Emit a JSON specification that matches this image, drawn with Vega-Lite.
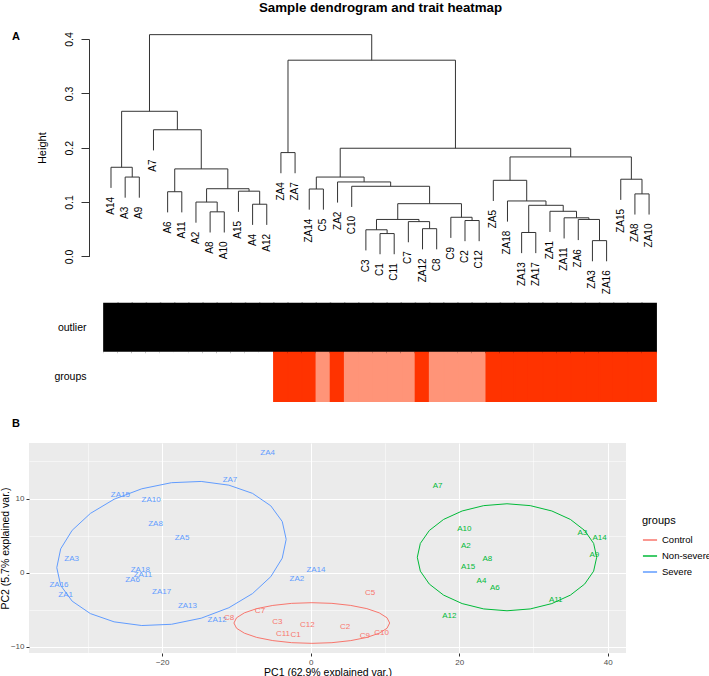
{
  "$schema": "https://vega.github.io/schema/vega-lite/v6.json",
  "background": "white",
  "padding": {"left": 0, "top": 1, "right": 0, "bottom": 0},
  "autosize": {"type": "pad"},
  "config": {"font": "Liberation Sans", "view": {"stroke": null}},
  "title": {"text": "Sample dendrogram and trait heatmap", "fontSize": 13.3, "fontWeight": "bold", "anchor": "start", "frame": "group", "color": "black", "dx": 230, "offset": 16},
  "bounds": "flush",
  "spacing": 41,
  "resolve": {"scale": {"color": "independent", "fill": "independent", "stroke": "independent"}},
  "datasets": {
    "nodes": [
      {"x":0,"h":0.126,"p":0.164,"name":"A14"},
      {"x":1,"h":0.108,"p":0.146,"name":"A3"},
      {"x":2,"h":0.108,"p":0.146,"name":"A9"},
      {"x":3,"h":0.195,"p":0.233,"name":"A7"},
      {"x":4,"h":0.081,"p":0.119,"name":"A6"},
      {"x":5,"h":0.081,"p":0.119,"name":"A11"},
      {"x":6,"h":0.062,"p":0.1,"name":"A2"},
      {"x":7,"h":0.044,"p":0.082,"name":"A8"},
      {"x":8,"h":0.044,"p":0.082,"name":"A10"},
      {"x":9,"h":0.082,"p":0.12,"name":"A15"},
      {"x":10,"h":0.058,"p":0.096,"name":"A4"},
      {"x":11,"h":0.058,"p":0.096,"name":"A12"},
      {"x":12,"h":0.153,"p":0.191,"name":"ZA4"},
      {"x":13,"h":0.153,"p":0.191,"name":"ZA7"},
      {"x":14,"h":0.086,"p":0.124,"name":"ZA14"},
      {"x":15,"h":0.086,"p":0.124,"name":"C5"},
      {"x":16,"h":0.099,"p":0.137,"name":"ZA2"},
      {"x":17,"h":0.091,"p":0.129,"name":"C10"},
      {"x":18,"h":0.011,"p":0.049,"name":"C3"},
      {"x":19,"h":0.004,"p":0.042,"name":"C1"},
      {"x":20,"h":0.004,"p":0.042,"name":"C11"},
      {"x":21,"h":0.026,"p":0.064,"name":"C7"},
      {"x":22,"h":0.013,"p":0.051,"name":"ZA12"},
      {"x":23,"h":0.013,"p":0.051,"name":"C8"},
      {"x":24,"h":0.034,"p":0.072,"name":"C9"},
      {"x":25,"h":0.028,"p":0.066,"name":"C2"},
      {"x":26,"h":0.028,"p":0.066,"name":"C12"},
      {"x":27,"h":0.102,"p":0.14,"name":"ZA5"},
      {"x":28,"h":0.064,"p":0.102,"name":"ZA18"},
      {"x":29,"h":0.006,"p":0.044,"name":"ZA13"},
      {"x":30,"h":0.006,"p":0.044,"name":"ZA17"},
      {"x":31,"h":0.045,"p":0.083,"name":"ZA1"},
      {"x":32,"h":0.033,"p":0.071,"name":"ZA11"},
      {"x":33,"h":0.03,"p":0.068,"name":"ZA6"},
      {"x":34,"h":-0.009,"p":0.029,"name":"ZA3"},
      {"x":35,"h":-0.009,"p":0.029,"name":"ZA16"},
      {"x":36,"h":0.104,"p":0.142,"name":"ZA15"},
      {"x":37,"h":0.077,"p":0.115,"name":"ZA8"},
      {"x":38,"h":0.077,"p":0.115,"name":"ZA10"},
      {"x":1.5,"h":0.146,"p":0.164},
      {"x":0.75,"h":0.164,"p":0.267},
      {"x":7.5,"h":0.082,"p":0.1},
      {"x":6.75,"h":0.1,"p":0.1245},
      {"x":10.5,"h":0.096,"p":0.12},
      {"x":9.75,"h":0.12,"p":0.1245},
      {"x":8.25,"h":0.1245,"p":0.161},
      {"x":4.5,"h":0.119,"p":0.161},
      {"x":6.375,"h":0.161,"p":0.233},
      {"x":4.6875,"h":0.233,"p":0.267},
      {"x":2.71875,"h":0.267,"p":0.408},
      {"x":12.5,"h":0.191,"p":0.361},
      {"x":14.5,"h":0.124,"p":0.146},
      {"x":19.5,"h":0.042,"p":0.049},
      {"x":18.75,"h":0.049,"p":0.068},
      {"x":22.5,"h":0.051,"p":0.064},
      {"x":21.75,"h":0.064,"p":0.068},
      {"x":20.25,"h":0.068,"p":0.097},
      {"x":25.5,"h":0.066,"p":0.072},
      {"x":24.75,"h":0.072,"p":0.097},
      {"x":22.5,"h":0.097,"p":0.129},
      {"x":19.75,"h":0.129,"p":0.137},
      {"x":17.875,"h":0.137,"p":0.146},
      {"x":16.1875,"h":0.146,"p":0.199},
      {"x":34.5,"h":0.029,"p":0.068},
      {"x":33.75,"h":0.068,"p":0.071},
      {"x":32.875,"h":0.071,"p":0.083},
      {"x":31.9375,"h":0.083,"p":0.094},
      {"x":29.5,"h":0.044,"p":0.094},
      {"x":30.71875,"h":0.094,"p":0.102},
      {"x":29.359,"h":0.102,"p":0.14},
      {"x":28.18,"h":0.14,"p":0.183},
      {"x":37.5,"h":0.115,"p":0.142},
      {"x":36.75,"h":0.142,"p":0.183},
      {"x":32.465,"h":0.183,"p":0.199},
      {"x":24.326,"h":0.199,"p":0.361},
      {"x":18.413,"h":0.361,"p":0.408}
    ],
    "merges": [
      {"x":1,"x2":2,"h":0.146},
      {"x":0,"x2":1.5,"h":0.164},
      {"x":7,"x2":8,"h":0.082},
      {"x":6,"x2":7.5,"h":0.1},
      {"x":10,"x2":11,"h":0.096},
      {"x":9,"x2":10.5,"h":0.12},
      {"x":6.75,"x2":9.75,"h":0.1245},
      {"x":4,"x2":5,"h":0.119},
      {"x":4.5,"x2":8.25,"h":0.161},
      {"x":3,"x2":6.375,"h":0.233},
      {"x":0.75,"x2":4.6875,"h":0.267},
      {"x":12,"x2":13,"h":0.191},
      {"x":14,"x2":15,"h":0.124},
      {"x":19,"x2":20,"h":0.042},
      {"x":18,"x2":19.5,"h":0.049},
      {"x":22,"x2":23,"h":0.051},
      {"x":21,"x2":22.5,"h":0.064},
      {"x":18.75,"x2":21.75,"h":0.068},
      {"x":25,"x2":26,"h":0.066},
      {"x":24,"x2":25.5,"h":0.072},
      {"x":20.25,"x2":24.75,"h":0.097},
      {"x":17,"x2":22.5,"h":0.129},
      {"x":16,"x2":19.75,"h":0.137},
      {"x":14.5,"x2":17.875,"h":0.146},
      {"x":34,"x2":35,"h":0.029},
      {"x":33,"x2":34.5,"h":0.068},
      {"x":32,"x2":33.75,"h":0.071},
      {"x":31,"x2":32.875,"h":0.083},
      {"x":29,"x2":30,"h":0.044},
      {"x":29.5,"x2":31.9375,"h":0.094},
      {"x":28,"x2":30.71875,"h":0.102},
      {"x":27,"x2":29.359,"h":0.14},
      {"x":37,"x2":38,"h":0.115},
      {"x":36,"x2":37.5,"h":0.142},
      {"x":28.18,"x2":36.75,"h":0.183},
      {"x":16.1875,"x2":32.465,"h":0.199},
      {"x":12.5,"x2":24.326,"h":0.361},
      {"x":2.71875,"x2":18.413,"h":0.408}
    ],
    "samples": [
      {"sample":"A14","outlier":"no","groups":"Non-severe"},
      {"sample":"A3","outlier":"no","groups":"Non-severe"},
      {"sample":"A9","outlier":"no","groups":"Non-severe"},
      {"sample":"A7","outlier":"no","groups":"Non-severe"},
      {"sample":"A6","outlier":"no","groups":"Non-severe"},
      {"sample":"A11","outlier":"no","groups":"Non-severe"},
      {"sample":"A2","outlier":"no","groups":"Non-severe"},
      {"sample":"A8","outlier":"no","groups":"Non-severe"},
      {"sample":"A10","outlier":"no","groups":"Non-severe"},
      {"sample":"A15","outlier":"no","groups":"Non-severe"},
      {"sample":"A4","outlier":"no","groups":"Non-severe"},
      {"sample":"A12","outlier":"no","groups":"Non-severe"},
      {"sample":"ZA4","outlier":"no","groups":"Severe"},
      {"sample":"ZA7","outlier":"no","groups":"Severe"},
      {"sample":"ZA14","outlier":"no","groups":"Severe"},
      {"sample":"C5","outlier":"no","groups":"Control"},
      {"sample":"ZA2","outlier":"no","groups":"Severe"},
      {"sample":"C10","outlier":"no","groups":"Control"},
      {"sample":"C3","outlier":"no","groups":"Control"},
      {"sample":"C1","outlier":"no","groups":"Control"},
      {"sample":"C11","outlier":"no","groups":"Control"},
      {"sample":"C7","outlier":"no","groups":"Control"},
      {"sample":"ZA12","outlier":"no","groups":"Severe"},
      {"sample":"C8","outlier":"no","groups":"Control"},
      {"sample":"C9","outlier":"no","groups":"Control"},
      {"sample":"C2","outlier":"no","groups":"Control"},
      {"sample":"C12","outlier":"no","groups":"Control"},
      {"sample":"ZA5","outlier":"no","groups":"Severe"},
      {"sample":"ZA18","outlier":"no","groups":"Severe"},
      {"sample":"ZA13","outlier":"no","groups":"Severe"},
      {"sample":"ZA17","outlier":"no","groups":"Severe"},
      {"sample":"ZA1","outlier":"no","groups":"Severe"},
      {"sample":"ZA11","outlier":"no","groups":"Severe"},
      {"sample":"ZA6","outlier":"no","groups":"Severe"},
      {"sample":"ZA3","outlier":"no","groups":"Severe"},
      {"sample":"ZA16","outlier":"no","groups":"Severe"},
      {"sample":"ZA15","outlier":"no","groups":"Severe"},
      {"sample":"ZA8","outlier":"no","groups":"Severe"},
      {"sample":"ZA10","outlier":"no","groups":"Severe"}
    ],
    "pca": [
      {"name":"ZA4","group":"Severe","pc1":-5.79,"pc2":16.1},
      {"name":"ZA7","group":"Severe","pc1":-10.87,"pc2":12.45},
      {"name":"ZA15","group":"Severe","pc1":-25.64,"pc2":10.43},
      {"name":"ZA10","group":"Severe","pc1":-21.5,"pc2":9.8},
      {"name":"ZA8","group":"Severe","pc1":-20.9,"pc2":6.56},
      {"name":"ZA5","group":"Severe","pc1":-17.33,"pc2":4.68},
      {"name":"ZA3","group":"Severe","pc1":-32.2,"pc2":1.8},
      {"name":"ZA18","group":"Severe","pc1":-22.95,"pc2":0.32},
      {"name":"ZA11","group":"Severe","pc1":-22.6,"pc2":-0.27},
      {"name":"ZA6","group":"Severe","pc1":-24.0,"pc2":-0.98},
      {"name":"ZA16","group":"Severe","pc1":-33.9,"pc2":-1.6},
      {"name":"ZA1","group":"Severe","pc1":-33.0,"pc2":-2.96},
      {"name":"ZA17","group":"Severe","pc1":-20.07,"pc2":-2.6},
      {"name":"ZA13","group":"Severe","pc1":-16.6,"pc2":-4.45},
      {"name":"ZA12","group":"Severe","pc1":-12.6,"pc2":-6.4},
      {"name":"ZA14","group":"Severe","pc1":0.71,"pc2":0.36},
      {"name":"ZA2","group":"Severe","pc1":-1.85,"pc2":-0.9},
      {"name":"C8","group":"Control","pc1":-11.0,"pc2":-6.15},
      {"name":"C7","group":"Control","pc1":-6.83,"pc2":-5.2},
      {"name":"C3","group":"Control","pc1":-4.5,"pc2":-6.64},
      {"name":"C12","group":"Control","pc1":-0.45,"pc2":-7.05},
      {"name":"C11","group":"Control","pc1":-3.73,"pc2":-8.26},
      {"name":"C1","group":"Control","pc1":-2.02,"pc2":-8.35},
      {"name":"C2","group":"Control","pc1":4.62,"pc2":-7.32},
      {"name":"C5","group":"Control","pc1":7.99,"pc2":-2.78},
      {"name":"C9","group":"Control","pc1":7.31,"pc2":-8.49},
      {"name":"C10","group":"Control","pc1":9.56,"pc2":-8.17},
      {"name":"A7","group":"Non-severe","pc1":17.1,"pc2":11.64},
      {"name":"A10","group":"Non-severe","pc1":20.7,"pc2":5.89},
      {"name":"A2","group":"Non-severe","pc1":20.9,"pc2":3.55},
      {"name":"A8","group":"Non-severe","pc1":23.8,"pc2":1.8},
      {"name":"A15","group":"Non-severe","pc1":21.2,"pc2":0.77},
      {"name":"A4","group":"Non-severe","pc1":23.0,"pc2":-1.16},
      {"name":"A6","group":"Non-severe","pc1":24.8,"pc2":-2.02},
      {"name":"A3","group":"Non-severe","pc1":36.6,"pc2":5.3},
      {"name":"A14","group":"Non-severe","pc1":38.9,"pc2":4.68},
      {"name":"A9","group":"Non-severe","pc1":38.2,"pc2":2.39},
      {"name":"A11","group":"Non-severe","pc1":33.0,"pc2":-3.68},
      {"name":"A12","group":"Non-severe","pc1":18.67,"pc2":-5.88}
    ],
    "ellipse": [
      {"group":"Non-severe","t":0,"pc1":38.52,"pc2":2.08},
      {"group":"Non-severe","t":1,"pc1":38.11,"pc2":3.95},
      {"group":"Non-severe","t":2,"pc1":36.9,"pc2":5.69},
      {"group":"Non-severe","t":3,"pc1":34.98,"pc2":7.18},
      {"group":"Non-severe","t":4,"pc1":32.48,"pc2":8.32},
      {"group":"Non-severe","t":5,"pc1":29.57,"pc2":9.04},
      {"group":"Non-severe","t":6,"pc1":26.44,"pc2":9.29},
      {"group":"Non-severe","t":7,"pc1":23.31,"pc2":9.04},
      {"group":"Non-severe","t":8,"pc1":20.4,"pc2":8.32},
      {"group":"Non-severe","t":9,"pc1":17.9,"pc2":7.18},
      {"group":"Non-severe","t":10,"pc1":15.98,"pc2":5.69},
      {"group":"Non-severe","t":11,"pc1":14.77,"pc2":3.95},
      {"group":"Non-severe","t":12,"pc1":14.36,"pc2":2.08},
      {"group":"Non-severe","t":13,"pc1":14.77,"pc2":0.21},
      {"group":"Non-severe","t":14,"pc1":15.98,"pc2":-1.53},
      {"group":"Non-severe","t":15,"pc1":17.9,"pc2":-3.02},
      {"group":"Non-severe","t":16,"pc1":20.4,"pc2":-4.16},
      {"group":"Non-severe","t":17,"pc1":23.31,"pc2":-4.88},
      {"group":"Non-severe","t":18,"pc1":26.44,"pc2":-5.13},
      {"group":"Non-severe","t":19,"pc1":29.57,"pc2":-4.88},
      {"group":"Non-severe","t":20,"pc1":32.48,"pc2":-4.16},
      {"group":"Non-severe","t":21,"pc1":34.98,"pc2":-3.02},
      {"group":"Non-severe","t":22,"pc1":36.9,"pc2":-1.53},
      {"group":"Non-severe","t":23,"pc1":38.11,"pc2":0.21},
      {"group":"Non-severe","t":24,"pc1":38.52,"pc2":2.08},
      {"group":"Control","t":0,"pc1":10.64,"pc2":-6.78},
      {"group":"Control","t":1,"pc1":10.28,"pc2":-6.07},
      {"group":"Control","t":2,"pc1":9.23,"pc2":-5.41},
      {"group":"Control","t":3,"pc1":7.57,"pc2":-4.84},
      {"group":"Control","t":4,"pc1":5.4,"pc2":-4.41},
      {"group":"Control","t":5,"pc1":2.86,"pc2":-4.13},
      {"group":"Control","t":6,"pc1":0.15,"pc2":-4.04},
      {"group":"Control","t":7,"pc1":-2.56,"pc2":-4.13},
      {"group":"Control","t":8,"pc1":-5.1,"pc2":-4.41},
      {"group":"Control","t":9,"pc1":-7.27,"pc2":-4.84},
      {"group":"Control","t":10,"pc1":-8.93,"pc2":-5.41},
      {"group":"Control","t":11,"pc1":-9.98,"pc2":-6.07},
      {"group":"Control","t":12,"pc1":-10.34,"pc2":-6.78},
      {"group":"Control","t":13,"pc1":-9.98,"pc2":-7.49},
      {"group":"Control","t":14,"pc1":-8.93,"pc2":-8.15},
      {"group":"Control","t":15,"pc1":-7.27,"pc2":-8.72},
      {"group":"Control","t":16,"pc1":-5.1,"pc2":-9.15},
      {"group":"Control","t":17,"pc1":-2.56,"pc2":-9.43},
      {"group":"Control","t":18,"pc1":0.15,"pc2":-9.52},
      {"group":"Control","t":19,"pc1":2.86,"pc2":-9.43},
      {"group":"Control","t":20,"pc1":5.4,"pc2":-9.15},
      {"group":"Control","t":21,"pc1":7.57,"pc2":-8.72},
      {"group":"Control","t":22,"pc1":9.23,"pc2":-8.15},
      {"group":"Control","t":23,"pc1":10.28,"pc2":-7.49},
      {"group":"Control","t":24,"pc1":10.64,"pc2":-6.78},
      {"group":"Severe","t":0,"pc1":-3.3,"pc2":4.5},
      {"group":"Severe","t":1,"pc1":-3.83,"pc2":6.9},
      {"group":"Severe","t":2,"pc1":-5.37,"pc2":9.01},
      {"group":"Severe","t":3,"pc1":-7.83,"pc2":10.69},
      {"group":"Severe","t":4,"pc1":-11.02,"pc2":11.8},
      {"group":"Severe","t":5,"pc1":-14.75,"pc2":12.3},
      {"group":"Severe","t":6,"pc1":-18.75,"pc2":12.13},
      {"group":"Severe","t":7,"pc1":-22.75,"pc2":11.31},
      {"group":"Severe","t":8,"pc1":-26.48,"pc2":9.9},
      {"group":"Severe","t":9,"pc1":-29.67,"pc2":7.99},
      {"group":"Severe","t":10,"pc1":-32.13,"pc2":5.71},
      {"group":"Severe","t":11,"pc1":-33.67,"pc2":3.22},
      {"group":"Severe","t":12,"pc1":-34.2,"pc2":0.68},
      {"group":"Severe","t":13,"pc1":-33.67,"pc2":-1.72},
      {"group":"Severe","t":14,"pc1":-32.13,"pc2":-3.83},
      {"group":"Severe","t":15,"pc1":-29.67,"pc2":-5.51},
      {"group":"Severe","t":16,"pc1":-26.48,"pc2":-6.62},
      {"group":"Severe","t":17,"pc1":-22.75,"pc2":-7.12},
      {"group":"Severe","t":18,"pc1":-18.75,"pc2":-6.95},
      {"group":"Severe","t":19,"pc1":-14.75,"pc2":-6.13},
      {"group":"Severe","t":20,"pc1":-11.02,"pc2":-4.72},
      {"group":"Severe","t":21,"pc1":-7.83,"pc2":-2.81},
      {"group":"Severe","t":22,"pc1":-5.37,"pc2":-0.53},
      {"group":"Severe","t":23,"pc1":-3.83,"pc2":1.96},
      {"group":"Severe","t":24,"pc1":-3.3,"pc2":4.5}
    ]
  },
  "vconcat": [
    {
      "width": 630,
      "height": 217.4,
      "title": {"text": "A", "anchor": "start", "frame": "group", "fontSize": 11, "fontWeight": "bold", "color": "black", "dx": -17, "offset": -10},
      "layer": [
        {
          "data": {"name": "merges"},
          "mark": {"type": "rule", "color": "#333333", "strokeWidth": 1},
          "encoding": {
            "x": {"field": "x", "type": "quantitative", "scale": {"domain": [-5.791, 38.701], "nice": false, "zero": false}, "axis": null},
            "x2": {"field": "x2"},
            "y": {"field": "h", "type": "quantitative", "scale": {"domain": [0, 0.4], "nice": false, "zero": false},
              "axis": {"values": [0, 0.1, 0.2, 0.3, 0.4], "format": ".1f", "offset": -60, "tickSize": 8, "tickColor": "#333333", "domainColor": "#333333", "labelAngle": 270, "labelAlign": "center", "labelBaseline": "bottom", "labelPadding": 7, "labelFontSize": 10.5, "labelColor": "black", "title": "Height", "titleFontSize": 11, "titleFontWeight": "normal", "titleColor": "black", "titlePadding": 17, "grid": false}}
          }
        },
        {
          "data": {"name": "nodes"},
          "mark": {"type": "rule", "color": "#333333", "strokeWidth": 1},
          "encoding": {
            "x": {"field": "x", "type": "quantitative"},
            "y": {"field": "h", "type": "quantitative"},
            "y2": {"field": "p"}
          }
        },
        {
          "data": {"name": "nodes"},
          "transform": [{"filter": "isValid(datum.name)"}],
          "mark": {"type": "text", "angle": 270, "align": "right", "baseline": "middle", "dx": -9, "fontSize": 10, "color": "black"},
          "encoding": {
            "x": {"field": "x", "type": "quantitative"},
            "y": {"field": "h", "type": "quantitative"},
            "text": {"field": "name"}
          }
        }
      ]
    },
    {
      "width": 630,
      "height": 103.3,
      "data": {"name": "samples"},
      "transform": [{"fold": ["outlier", "groups"], "as": ["trait", "value"]}],
      "mark": {"type": "rect", "strokeWidth": 1.5},
      "encoding": {
        "x": {"field": "sample", "type": "nominal", "sort": null, "scale": {"paddingInner": 0, "paddingOuter": 0, "range": [74.92, 627.16]}, "axis": null},
        "y": {"field": "trait", "type": "nominal", "sort": ["outlier", "groups"], "scale": {"paddingInner": 0, "paddingOuter": 0.0573, "align": 1},
          "axis": {"offset": -60, "ticks": false, "domain": false, "labelFontSize": 10.5, "labelColor": "black", "labelPadding": 3, "title": null}},
        "fill": {"field": "value", "type": "nominal", "scale": {"domain": ["no", "Non-severe", "Severe", "Control"], "range": ["#000000", "#FFFFFF", "#FF3300", "#FF9478"]}, "legend": null},
        "stroke": {"field": "value", "type": "nominal", "scale": {"domain": ["no", "Non-severe", "Severe", "Control"], "range": ["#000000", "#FFFFFF", "#FF3300", "#FF9478"]}, "legend": null}
      }
    },
    {
      "width": 597,
      "height": 210,
      "title": {"text": "B", "anchor": "start", "frame": "group", "fontSize": 11, "fontWeight": "bold", "color": "black", "dx": -17, "offset": 14},
      "view": {"fill": "#EBEBEB", "stroke": null},
      "layer": [
        {
          "data": {"name": "ellipse"},
          "mark": {"type": "line", "strokeWidth": 1},
          "encoding": {
            "x": {"field": "pc1", "type": "quantitative", "scale": {"domain": [-37.94, 42.47], "nice": false, "zero": false},
              "axis": {"values": [-30, -20, -10, 0, 10, 20, 30, 40], "grid": true, "gridColor": "white",
                "gridWidth": {"condition": {"test": "datum.value % 20 === 0", "value": 1.1}, "value": 0.5},
                "tickOpacity": {"condition": {"test": "datum.value % 20 === 0", "value": 1}, "value": 0},
                "labelExpr": "datum.value % 20 === 0 ? datum.label : ''",
                "tickColor": "#333333", "tickSize": 3, "domain": false, "labelColor": "#4D4D4D", "labelFontSize": 8, "labelPadding": 2,
                "title": "PC1 (62.9% explained var.)", "titleFontSize": 10.5, "titleFontWeight": "normal", "titleColor": "black", "titlePadding": 1}},
            "y": {"field": "pc2", "type": "quantitative", "scale": {"domain": [-10.82, 17.48], "nice": false, "zero": false},
              "axis": {"values": [-10, -5, 0, 5, 10, 15], "grid": true, "gridColor": "white",
                "gridWidth": {"condition": {"test": "datum.value % 10 === 0", "value": 1.1}, "value": 0.5},
                "tickOpacity": {"condition": {"test": "datum.value % 10 === 0", "value": 1}, "value": 0},
                "labelExpr": "datum.value % 10 === 0 ? datum.label : ''",
                "tickColor": "#333333", "tickSize": 3, "domain": false, "labelColor": "#4D4D4D", "labelFontSize": 8, "labelPadding": 2,
                "title": "PC2 (5.7% explained var.)", "titleFontSize": 10.5, "titleFontWeight": "normal", "titleColor": "black", "titlePadding": 0}},
            "order": {"field": "t", "type": "quantitative"},
            "color": {"field": "group", "type": "nominal", "scale": {"domain": ["Control", "Non-severe", "Severe"], "range": ["#F8766D", "#00BA38", "#619CFF"]},
              "legend": {"title": "groups", "orient": "none", "legendX": 613, "legendY": 72, "symbolType": "stroke", "symbolSize": 200, "symbolStrokeWidth": 1.5, "labelFontSize": 9.5, "labelColor": "black", "titleFontSize": 11, "titleFontWeight": "normal", "titleColor": "black", "rowPadding": 3, "titlePadding": 6}}
          }
        },
        {
          "data": {"name": "pca"},
          "mark": {"type": "text", "fontSize": 8},
          "encoding": {
            "x": {"field": "pc1", "type": "quantitative"},
            "y": {"field": "pc2", "type": "quantitative"},
            "text": {"field": "name"},
            "color": {"field": "group", "type": "nominal"}
          }
        }
      ]
    }
  ]
}
